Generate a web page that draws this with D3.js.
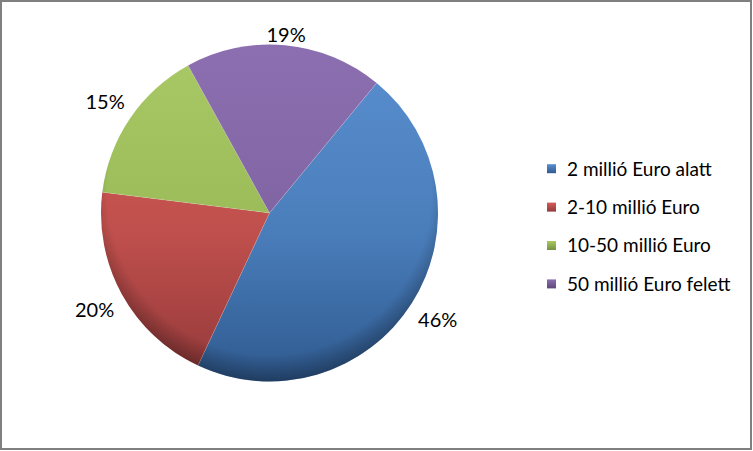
<!DOCTYPE html>
<html><head><meta charset="utf-8">
<script src="https://cdn.jsdelivr.net/npm/d3@7/dist/d3.min.js"></script>
<style>body{margin:0;background:#fff}svg{display:block}</style>
</head><body>
<svg id="c" width="753" height="451"></svg>
<script>
const categories = ["2 millió Euro alatt", "2-10 millió Euro", "10-50 millió Euro", "50 millió Euro felett"];
const values = [46, 20, 15, 19];
const labels = ["46%", "20%", "15%", "19%"];
const colors = ["#4a7ebb", "#c0504d", "#9bbb59", "#8064a2"];
const lightColors = ["#5a8fd0", "#d55c58", "#a9c966", "#8c6fb0"];
const darkColors = ["#2f5a8f", "#93393a", "#75903f", "#5c4779"];

const W = 753, H = 451;
const cx = 269.5, cy = 213, R = 168.5;
const startAngle = 39.5 * Math.PI / 180;
const font = "Lato, 'Open Sans', sans-serif";
const legendFs = 19, labelFs = 20;

const svg = d3.select("#c");
svg.append("rect").attr("x", 1).attr("y", 1).attr("width", W - 3).attr("height", H - 3)
  .attr("fill", "#fff").attr("stroke", "#808080").attr("stroke-width", 2);

const defs = svg.append("defs");
colors.forEach((c, i) => {
  const gg = defs.append("linearGradient").attr("id", "gl" + i)
    .attr("gradientUnits", "userSpaceOnUse")
    .attr("x1", 0).attr("y1", -R).attr("x2", 0).attr("y2", R);
  gg.append("stop").attr("offset", 0).attr("stop-color", lightColors[i]);
  gg.append("stop").attr("offset", 0.55).attr("stop-color", c);
  gg.append("stop").attr("offset", 1).attr("stop-color", darkColors[i]);
});
const rg = defs.append("radialGradient").attr("id", "rim")
  .attr("gradientUnits", "userSpaceOnUse")
  .attr("cx", 0).attr("cy", -20).attr("r", R + 22);
rg.append("stop").attr("offset", 0.85).attr("stop-color", "#000").attr("stop-opacity", 0);
rg.append("stop").attr("offset", 1).attr("stop-color", "#000").attr("stop-opacity", 0.35);

const pie = d3.pie().sort(null).value(d => d)
  .startAngle(startAngle).endAngle(startAngle + 2 * Math.PI);
const arcs = pie(values);
const arc = d3.arc().innerRadius(0).outerRadius(R);

const g = svg.append("g").attr("transform", `translate(${cx},${cy})`);
g.selectAll("path.s").data(arcs).join("path").attr("class", "s")
  .attr("d", arc)
  .attr("fill", (d, i) => `url(#gl${i})`);
g.append("circle").attr("r", R).attr("fill", "url(#rim)");
g.selectAll("line.sep").data(arcs).join("line").attr("class", "sep")
  .attr("x1", 0).attr("y1", 0)
  .attr("x2", d => R * Math.sin(d.startAngle))
  .attr("y2", d => -R * Math.cos(d.startAngle))
  .attr("stroke", "rgba(255,255,255,0.2)").attr("stroke-width", 0.8);

// percentage labels
g.selectAll("text.lbl").data(arcs).join("text").attr("class", "lbl")
  .each(function (d, i) {
    const m = (d.startAngle + d.endAngle) / 2;
    const rr = R + 8.5 + Math.abs(Math.sin(m)) * 26;
    d3.select(this)
      .attr("x", rr * Math.sin(m))
      .attr("y", -rr * Math.cos(m) + labelFs * 0.36)
      .text(labels[i]);
  })
  .attr("text-anchor", "middle")
  .attr("font-family", font).attr("font-size", labelFs).attr("fill", "#000");

// legend
const lx = 547, ly0 = 168.7, ldy = 38.4;
categories.forEach((c, i) => {
  const y = ly0 + i * ldy;
  const lg = defs.append("linearGradient").attr("id", "lm" + i)
    .attr("x1", 0).attr("y1", 0).attr("x2", 0).attr("y2", 1);
  lg.append("stop").attr("offset", 0).attr("stop-color", lightColors[i]);
  lg.append("stop").attr("offset", 1).attr("stop-color", darkColors[i]);
  svg.append("rect").attr("x", lx).attr("y", y - 4.5).attr("width", 9).attr("height", 9)
    .attr("fill", `url(#lm${i})`);
  svg.append("text").attr("x", lx + 20).attr("y", y + legendFs * 0.36)
    .attr("font-family", font).attr("font-size", legendFs).attr("fill", "#000")
    .text(c);
});
</script>
</body></html>
